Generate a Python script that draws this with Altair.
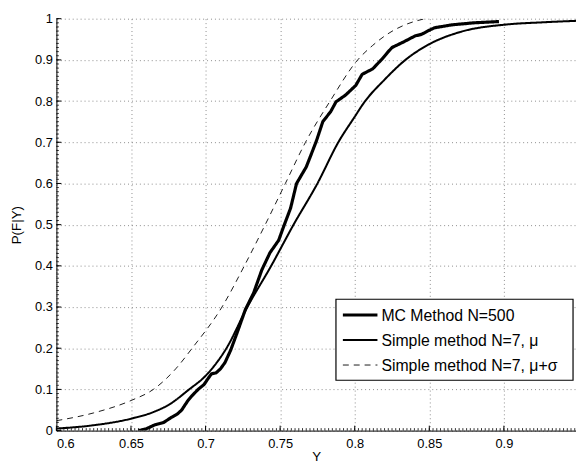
import altair as alt
import numpy as np
import pandas as pd

series_names = ["MC Method N=500", "Simple method N=7, μ", "Simple method N=7, μ+σ"]

mc_x = [0.655, 0.660, 0.666, 0.672, 0.677, 0.681, 0.684, 0.688, 0.691, 0.695, 0.699,
        0.702, 0.704, 0.707, 0.710, 0.713, 0.7168, 0.7212, 0.7267, 0.7322, 0.7377,
        0.7432, 0.749, 0.752, 0.757, 0.761, 0.7675, 0.7742, 0.7786, 0.784, 0.7874,
        0.794, 0.8007, 0.805, 0.812, 0.8183, 0.822, 0.825, 0.833, 0.8404, 0.8448,
        0.850, 0.8536, 0.865, 0.880, 0.8967]
mc_y = [0.000, 0.004, 0.014, 0.020, 0.032, 0.040, 0.050, 0.072, 0.085, 0.100, 0.112,
        0.128, 0.138, 0.140, 0.150, 0.165, 0.195, 0.238, 0.294, 0.334, 0.390,
        0.432, 0.462, 0.492, 0.540, 0.600, 0.640, 0.702, 0.750, 0.775, 0.798,
        0.815, 0.838, 0.865, 0.878, 0.902, 0.918, 0.930, 0.944, 0.958, 0.962,
        0.972, 0.978, 0.985, 0.990, 0.993]

mu_x = [0.600, 0.625, 0.650, 0.665, 0.675, 0.689, 0.700, 0.714, 0.728, 0.744, 0.759,
        0.775, 0.789, 0.800, 0.806, 0.820, 0.834, 0.851, 0.871, 0.902, 0.925, 0.950]
mu_y = [0.005, 0.013, 0.029, 0.045, 0.062, 0.100, 0.133, 0.200, 0.300, 0.400, 0.500,
        0.600, 0.700, 0.762, 0.795, 0.852, 0.900, 0.940, 0.968, 0.986, 0.991, 0.995]

ms_x = [0.600, 0.625, 0.650, 0.665, 0.680, 0.691, 0.711, 0.726, 0.740, 0.7535, 0.767,
        0.7835, 0.802, 0.812, 0.823, 0.835, 0.846]
ms_y = [0.024, 0.043, 0.073, 0.100, 0.150, 0.200, 0.300, 0.400, 0.500, 0.600, 0.700,
        0.800, 0.900, 0.935, 0.965, 0.987, 0.999]

x_ticks = [0.6, 0.65, 0.7, 0.75, 0.8, 0.85, 0.9]
y_ticks = [0, 0.1, 0.2, 0.3, 0.4, 0.5, 0.6, 0.7, 0.8, 0.9, 1.0]

W, H = 526, 417
X_MAX = 0.6 + W / 1510.0


def frame(name, xs_, ys_):
    return pd.DataFrame({"series": name, "x": xs_, "y": ys_, "i": range(len(xs_))})


df_mc = frame(series_names[0], mc_x, mc_y)
df_smooth = pd.concat([frame(series_names[1], mu_x, mu_y),
                       frame(series_names[2], ms_x, ms_y)], ignore_index=True)

xs = alt.Scale(domain=[0.6, X_MAX], nice=False, zero=False)
ys = alt.Scale(domain=[0, 1], nice=False)
sw_scale = alt.Scale(domain=series_names, range=[3.2, 0.9, 1.1])
sd_scale = alt.Scale(domain=series_names, range=[[1, 0], [1, 0], [6, 5]])

x_axis = alt.Axis(values=x_ticks, format=".2~f", grid=True, ticks=False,
                  labelPadding=7, titleX=W / 2, titleY=30, titleBaseline="alphabetic")
y_axis = alt.Axis(values=y_ticks, format=".1~f", grid=True, ticks=False,
                  labelPadding=4, titleX=-33, titleY=H / 2, titleBaseline="bottom")


def X(field):
    return alt.X(field, scale=xs, title="Y", axis=x_axis)


def Y(field):
    return alt.Y(field, scale=ys, title="P(F|Y)", axis=y_axis)


def styled(c):
    return c.encode(
        x=X("x:Q"), y=Y("y:Q"), detail="series:N", order="i:Q",
        strokeWidth=alt.StrokeWidth("series:N", scale=sw_scale, legend=None),
        strokeDash=alt.StrokeDash("series:N", scale=sd_scale, legend=None),
    )


smooth = styled(alt.Chart(df_smooth).mark_line(color="black", clip=True,
                                               interpolate="monotone"))
mc = styled(alt.Chart(df_mc).mark_line(color="black", clip=True, strokeJoin="round"))

# inward ticks (MATLAB style)
xmaj = pd.DataFrame({"v": x_ticks})
ymaj = pd.DataFrame({"v": y_ticks})
xmin = pd.DataFrame({"v": np.round(np.arange(0.6, X_MAX, 0.0025), 4)})
ymin = pd.DataFrame({"v": np.round(np.arange(0, 1.0001, 0.01), 3)})

xmaj_r = alt.Chart(xmaj).mark_rule(color="black", strokeWidth=1).encode(
    x=X("v:Q"), y=alt.value(H), y2=alt.value(H - 5))
xmin_r = alt.Chart(xmin).mark_rule(color="black", strokeWidth=0.8).encode(
    x=X("v:Q"), y=alt.value(H), y2=alt.value(H - 2.5))
ymaj_r = alt.Chart(ymaj).mark_rule(color="black", strokeWidth=1).encode(
    y=Y("v:Q"), x=alt.value(0), x2=alt.value(5))
ymin_r = alt.Chart(ymin).mark_rule(color="black", strokeWidth=0.8).encode(
    y=Y("v:Q"), x=alt.value(0), x2=alt.value(2.5))

# legend drawn by hand
LX0, LX1, LY0, LY1 = 283, 523, 284, 366
one = pd.DataFrame({"a": [0]})
box = alt.Chart(one).mark_rect(fill="white", stroke="black", strokeWidth=1.2).encode(
    x=alt.value(LX0), x2=alt.value(LX1), y=alt.value(LY0), y2=alt.value(LY1))

leg_layers = [box]
for k, name in enumerate(series_names):
    cy = 300 + 25.3 * k
    d = pd.DataFrame({"series": [name]})
    leg_layers.append(
        alt.Chart(d).mark_rule(color="black").encode(
            x=alt.value(290), x2=alt.value(325), y=alt.value(cy),
            strokeWidth=alt.StrokeWidth("series:N", scale=sw_scale, legend=None),
            strokeDash=alt.StrokeDash("series:N", scale=sd_scale, legend=None)))
    leg_layers.append(
        alt.Chart(d).mark_text(align="left", baseline="alphabetic", fontSize=16,
                               font="Liberation Sans", color="black").encode(
            x=alt.value(329), y=alt.value(cy + 6), text="series:N"))

chart = alt.layer(smooth, mc, xmaj_r, xmin_r, ymaj_r, ymin_r, *leg_layers).properties(
    width=W, height=H,
    padding={"left": 49, "top": 8, "right": 0, "bottom": 32},
    autosize=alt.AutoSizeParams(type="none"),
    background="white",
).configure_view(stroke=None).configure_axis(
    domainColor="black", domainWidth=1,
    labelFont="Liberation Sans", labelFontSize=13, labelColor="black",
    titleFont="Liberation Sans", titleFontSize=13.5, titleFontWeight="normal", titleColor="black",
    gridColor="#8c8c8c", gridDash=[1, 3], gridWidth=1,
)

chart.save("out.html", embed_options={"renderer": "svg", "actions": False})
